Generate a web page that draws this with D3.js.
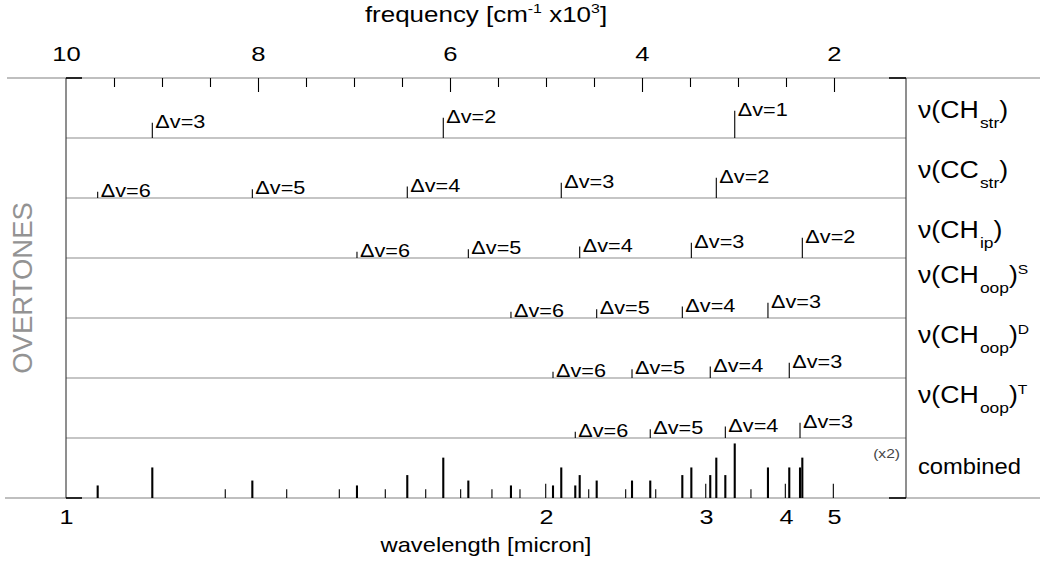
<!DOCTYPE html>
<html><head><meta charset="utf-8">
<script src="https://cdn.jsdelivr.net/npm/d3@7"></script>
<style>
body{margin:0;background:#fff}
svg{display:block}
text{font-family:"Liberation Sans",Arial,Helvetica,sans-serif;fill:#000}
</style>
</head><body>
<svg id="chart" width="1040" height="570"></svg>
<script>
(function(){
// ---------- data (frequencies in cm^-1 x10^3) ----------
const freqDomain = [10, 1.25];
const topMajorTicks = [10, 8, 6, 4, 2];
const topMinorTicks = [9.5, 9, 8.5, 7.5, 7, 6.5, 5.5, 5, 4.5, 3.5, 3, 2.5];
const wavelengthTicks = [1, 2, 3, 4, 5];

const rowMain = ["ν(CH", "ν(CC", "ν(CH", "ν(CH", "ν(CH", "ν(CH"];
const rowSub  = ["str", "str", "ip", "oop", "oop", "oop"];
const rowSup  = ["", "", "", "S", "D", "T"];

// overtone positions per mode, and the Δv of each
const chStrFreq  = [3.034, 6.070, 9.101];
const chStrDv    = [1, 2, 3];
const ccStrFreq  = [3.226, 4.841, 6.445, 8.059, 9.670];
const ccStrDv    = [2, 3, 4, 5, 6];
const chIpFreq   = [2.330, 3.486, 4.649, 5.809, 6.969];
const chIpDv     = [2, 3, 4, 5, 6];
const chOopSFreq = [2.688, 3.580, 4.472, 5.365];
const chOopSDv   = [3, 4, 5, 6];
const chOopDFreq = [2.466, 3.289, 4.104, 4.927];
const chOopDDv   = [3, 4, 5, 6];
const chOopTFreq = [2.354, 3.132, 3.914, 4.695];
const chOopTDv   = [3, 4, 5, 6];

// relative intensity for Δv = 1..6
const dvIntensity = [1.00, 0.74, 0.56, 0.42, 0.32, 0.23];

// extra (unlabelled) bands shown only in the combined row
const extraFreq = [8.341, 7.701, 7.153, 6.674, 6.253, 5.889, 5.563, 5.271, 5.003, 4.555, 4.170, 3.857, 3.336, 2.865, 2.507, 2.007];
const extraInt  = [0.16, 0.16, 0.16, 0.16, 0.16, 0.16, 0.16, 0.16, 0.26, 0.16, 0.16, 0.16, 0.26, 0.16, 0.26, 0.26];

const modeFreqs = [chStrFreq, ccStrFreq, chIpFreq, chOopSFreq, chOopDFreq, chOopTFreq];
const modeDvs   = [chStrDv, ccStrDv, chIpDv, chOopSDv, chOopDDv, chOopTDv];

// ---------- layout ----------
const L = 66, R = 906, T = 78, rowH = 60, nRows = 7;
const B = T + rowH * nRows;

const svg = d3.select("#chart");
const x = d3.scaleLinear().domain(freqDomain).range([L, R]);
const yI = d3.scaleLinear().domain([0, 2.2]).range([0, rowH]);   // intensity -> tick height

function stretchText(g, px, py, anchor, size, sx) {
  return g.append("text")
    .attr("transform", `translate(${px},${py}) scale(${sx},1)`)
    .attr("text-anchor", anchor)
    .attr("font-size", size);
}

// full-width gray rules at top and bottom
svg.append("line").attr("x1", 7).attr("x2", 1040).attr("y1", T).attr("y2", T)
  .attr("stroke", "#808080").attr("stroke-width", 1.2);
svg.append("line").attr("x1", 5).attr("x2", 1040).attr("y1", B).attr("y2", B)
  .attr("stroke", "#808080").attr("stroke-width", 1.2);

// row separators
for (let i = 1; i < nRows; i++) {
  svg.append("line").attr("x1", L).attr("x2", R)
    .attr("y1", T + i * rowH).attr("y2", T + i * rowH)
    .attr("stroke", "#8c8c8c").attr("stroke-width", 1.1);
}
// frame verticals
[L, R].forEach(xx => svg.append("line").attr("x1", xx).attr("x2", xx)
  .attr("y1", T).attr("y2", B).attr("stroke", "#333").attr("stroke-width", 1.1));
// corner tick segments
[[L, L + 16], [R - 17, R]].forEach(([a, b]) => {
  [T, B].forEach(yy => svg.append("line").attr("x1", a).attr("x2", b)
    .attr("y1", yy).attr("y2", yy).attr("stroke", "#000").attr("stroke-width", 1.6));
});

// top axis (frequency)
const axTopMinor = svg.append("g").attr("transform", `translate(0,${T})`)
  .call(d3.axisTop(x).tickValues(topMinorTicks).tickSizeInner(-9).tickSizeOuter(0).tickFormat(""));
const axTopMajor = svg.append("g").attr("transform", `translate(0,${T})`)
  .call(d3.axisTop(x).tickValues(topMajorTicks.filter(d => d !== 10)).tickSizeInner(-14).tickSizeOuter(0).tickFormat(""));
const axTopLabels = svg.append("g").attr("transform", `translate(0,${T})`)
  .call(d3.axisTop(x).tickValues(topMajorTicks).tickSize(0).tickPadding(17).tickFormat(d3.format("d")));
[axTopMinor, axTopMajor, axTopLabels].forEach(g => {
  g.select(".domain").remove();
  g.selectAll(".tick line").attr("stroke", "#000").attr("stroke-width", 1.1);
});
axTopLabels.selectAll(".tick text").attr("font-size", 21).attr("fill", "#000")
  .attr("font-family", "Liberation Sans, Arial, sans-serif")
  .attr("transform", "scale(1.22,1)");

// bottom axis (wavelength)
const axBottom = svg.append("g").attr("transform", `translate(0,${B})`)
  .call(d3.axisBottom(x).tickValues(wavelengthTicks.map(l => 10 / l)).tickSize(0).tickPadding(11)
    .tickFormat(f => d3.format("d")(Math.round(10 / f))));
axBottom.select(".domain").remove();
axBottom.selectAll(".tick text").attr("font-size", 21).attr("fill", "#000")
  .attr("font-family", "Liberation Sans, Arial, sans-serif")
  .attr("transform", "scale(1.2,1)");

// axis titles
const tTop = stretchText(svg, (L + R) / 2, 22, "middle", 22, 1.18);
tTop.append("tspan").text("frequency [cm");
tTop.append("tspan").attr("font-size", 13.5).attr("dy", -9).text("-1");
tTop.append("tspan").attr("dy", 9).text(" x10");
tTop.append("tspan").attr("font-size", 13.5).attr("dy", -9).text("3");
tTop.append("tspan").attr("dy", 9).text("]");

stretchText(svg, (L + R) / 2, 552, "middle", 21, 1.13).text("wavelength [micron]");

// left label
svg.append("text").attr("transform", `translate(32,${(T + B) / 2}) rotate(-90)`)
  .attr("text-anchor", "middle").attr("font-size", 27.5)
  .attr("font-weight", 300).style("fill", "#939393").text("OVERTONES");

// overtone rows
modeFreqs.forEach((freqs, r) => {
  const base = T + (r + 1) * rowH;
  const g = svg.append("g");
  freqs.forEach((f, k) => {
    const dv = modeDvs[r][k];
    const h = yI(dvIntensity[dv - 1]);
    g.append("line").attr("x1", x(f)).attr("x2", x(f)).attr("y1", base).attr("y2", base - h)
      .attr("stroke", "#000").attr("stroke-width", 1.1);
    stretchText(g, x(f) + 3, base - h + 5, "start", 17.5, 1.24).text("Δv=" + dv);
  });
  // right-hand label
  const yb = T + r * rowH + (rowSup[r] ? 25 : 40);
  const t = stretchText(svg, 918, yb, "start", 23, 1.16);
  t.append("tspan").text(rowMain[r]);
  t.append("tspan").attr("font-size", 15).attr("dx", 1).attr("dy", 10).text(rowSub[r]);
  t.append("tspan").attr("dy", -10).text(")");
  if (rowSup[r]) t.append("tspan").attr("font-size", 13.5).attr("dy", -9).text(rowSup[r]);
});

// combined row (intensities x2)
const gc = svg.append("g");
extraFreq.forEach((f, i) => {
  gc.append("line").attr("x1", x(f)).attr("x2", x(f)).attr("y1", B).attr("y2", B - yI(2 * extraInt[i]))
    .attr("stroke", "#000").attr("stroke-width", 1.1);
});
modeFreqs.forEach((freqs, r) => {
  freqs.forEach((f, k) => {
    const dv = modeDvs[r][k];
    gc.append("line").attr("x1", x(f)).attr("x2", x(f)).attr("y1", B)
      .attr("y2", B - yI(2 * dvIntensity[dv - 1]))
      .attr("stroke", "#000").attr("stroke-width", 2.1);
  });
});
stretchText(svg, 900, 458, "end", 13, 1.2).style("fill", "#444").text("(x2)");
stretchText(svg, 918, T + 6 * rowH + 36, "start", 22, 1.08).text("combined");
})();
</script>
</body></html>
